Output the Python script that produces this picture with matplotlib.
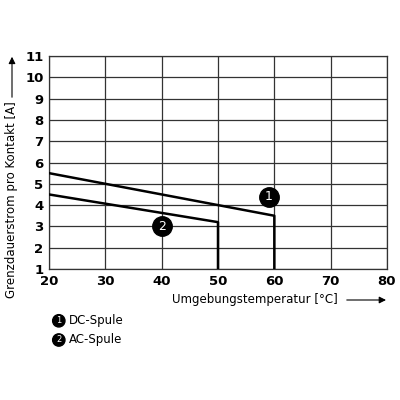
import matplotlib.pyplot as plt

# DC coil (1) and AC coil (2) derating curves
dc_temp = [20, 60, 60]
dc_current = [5.5, 3.5, 1]
ac_temp = [20, 50, 50]
ac_current = [4.5, 3.2, 1]

x_ticks = [20, 30, 40, 50, 60, 70, 80]
y_ticks = list(range(1, 12))

labels = ["DC-Spule", "AC-Spule"]
marker_pos = [(59, 4.4), (40, 3.0)]


def main():
    fig = plt.figure(figsize=(4, 4), dpi=100)
    ax = fig.add_axes([0.1225, 0.3275, 0.845, 0.5325])

    ax.plot(dc_temp, dc_current, color="black", lw=1.8, zorder=3)
    ax.plot(ac_temp, ac_current, color="black", lw=1.8, zorder=3)

    for i, (x, y) in enumerate(marker_pos):
        ax.plot(x, y, "o", color="black", ms=14, zorder=4, clip_on=False)
        ax.text(x, y, str(i + 1), color="white", fontsize=9,
                ha="center", va="center", zorder=5)

    ax.set_xlim(20, 80)
    ax.set_ylim(1, 11)
    ax.set_xticks(x_ticks)
    ax.set_yticks(y_ticks)
    ax.grid(True, color="#333333", lw=0.9)
    for s in ax.spines.values():
        s.set_color("#333333")
        s.set_linewidth(0.9)
    ax.tick_params(length=0, labelsize=9.5, pad=4)
    for t in ax.get_xticklabels() + ax.get_yticklabels():
        t.set_fontweight("bold")

    # axis titles with arrows
    arrow = dict(arrowstyle="-|>", color="black", lw=0.8, mutation_scale=10)
    fig.text(0.636, 0.25, "Umgebungstemperatur [°C]", fontsize=8.5,
             ha="center", va="center")
    ax.annotate("", xy=(0.972, 0.25), xytext=(0.86, 0.25),
                xycoords="figure fraction", arrowprops=arrow,
                annotation_clip=False)
    fig.text(0.03, 0.5, "Grenzdauerstrom pro Kontakt [A]", fontsize=8.5,
             rotation=90, ha="center", va="center")
    ax.annotate("", xy=(0.03, 0.865), xytext=(0.03, 0.75),
                xycoords="figure fraction", arrowprops=arrow,
                annotation_clip=False)

    # legend
    for i, lab in enumerate(labels):
        yy = 0.198 - i * 0.048
        fig.text(0.147, yy, str(i + 1), color="white", fontsize=6,
                 ha="center", va="center",
                 bbox=dict(boxstyle="circle,pad=0.2", fc="black", ec="black"))
        fig.text(0.172, yy, lab, fontsize=8.5, ha="left", va="center")

    fig.savefig("out.png", dpi=100)


if __name__ == "__main__":
    main()
